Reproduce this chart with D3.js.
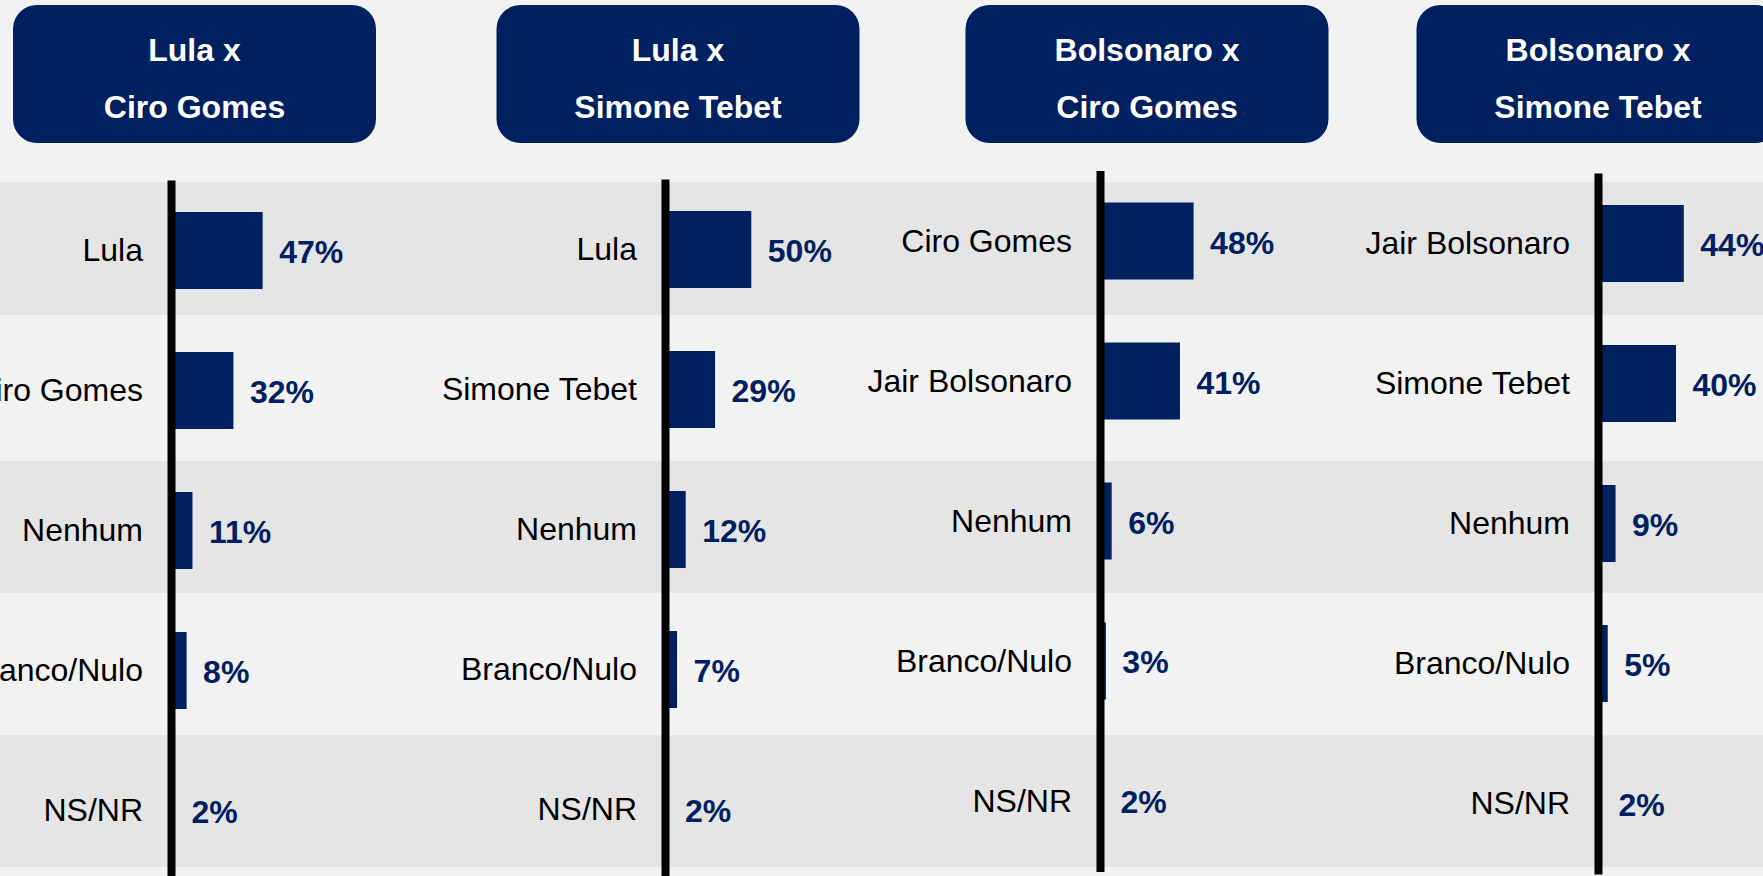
<!DOCTYPE html>
<html>
<head>
<meta charset="utf-8">
<script src="https://cdn.jsdelivr.net/npm/d3@7/dist/d3.min.js"></script>
<style>
  html, body { margin: 0; padding: 0; background: #f2f2f2; }
  svg { display: block; }
  text { font-family: "Liberation Sans", Arial, Helvetica, sans-serif; }
</style>
</head>
<body>
<svg id="chart" width="1763" height="876"></svg>
<script>
// ---- data ----
const titleLine1 = ["Lula x", "Lula x", "Bolsonaro x", "Bolsonaro x"];
const titleLine2 = ["Ciro Gomes", "Simone Tebet", "Ciro Gomes", "Simone Tebet"];

const categories1 = ["Lula", "Ciro Gomes", "Nenhum", "Branco/Nulo", "NS/NR"];
const values1 = [47, 32, 11, 8, 2];

const categories2 = ["Lula", "Simone Tebet", "Nenhum", "Branco/Nulo", "NS/NR"];
const values2 = [50, 29, 12, 7, 2];

const categories3 = ["Ciro Gomes", "Jair Bolsonaro", "Nenhum", "Branco/Nulo", "NS/NR"];
const values3 = [48, 41, 6, 3, 2];

const categories4 = ["Jair Bolsonaro", "Simone Tebet", "Nenhum", "Branco/Nulo", "NS/NR"];
const values4 = [44, 40, 9, 5, 2];

// per-panel value-axis maximum (scale domain)
const axisMax = [100, 113, 100, 100];

// ---- layout ----
const W = 1763, H = 876;
const navy = "#002060";
const bandDark = "#e5e5e5";
const rowEdges = [182, 315, 461, 593, 735, 867];
const panelAxisX = [171, 665, 1100, 1598];
const panelTop = [180, 179, 170.5, 173];
const boxCenterX = [194.5, 678, 1147, 1598];
const boxW = 363, boxH = 138, boxY = 5;
const plotLen = 701;
const barRange = 195;

const svg = d3.select("#chart");

// background stripes
const stripes = d3.range(0, rowEdges.length - 1).filter(i => i % 2 === 0);
svg.append("g").selectAll("rect").data(stripes).join("rect")
  .attr("x", 0).attr("width", W)
  .attr("y", i => rowEdges[i])
  .attr("height", i => rowEdges[i + 1] - rowEdges[i])
  .attr("fill", bandDark);

const panels = [
  { cats: categories1, vals: values1 },
  { cats: categories2, vals: values2 },
  { cats: categories3, vals: values3 },
  { cats: categories4, vals: values4 }
];

panels.forEach((p, pi) => {
  // header box
  const hg = svg.append("g");
  hg.append("rect")
    .attr("x", boxCenterX[pi] - boxW / 2).attr("y", boxY)
    .attr("width", boxW).attr("height", boxH)
    .attr("rx", 24).attr("ry", 24)
    .attr("fill", navy);
  hg.append("text")
    .attr("x", boxCenterX[pi]).attr("y", 61)
    .attr("text-anchor", "middle")
    .attr("fill", "#ffffff").attr("font-weight", "bold").attr("font-size", 32)
    .text(titleLine1[pi]);
  hg.append("text")
    .attr("x", boxCenterX[pi]).attr("y", 118)
    .attr("text-anchor", "middle")
    .attr("fill", "#ffffff").attr("font-weight", "bold").attr("font-size", 32)
    .text(titleLine2[pi]);

  // scales
  const y = d3.scaleBand()
    .domain(p.cats)
    .range([panelTop[pi], panelTop[pi] + plotLen])
    .paddingInner(0.45)
    .paddingOuter(0.2286);
  const x = d3.scaleLinear().domain([0, axisMax[pi]]).range([0, barRange]);

  const g = svg.append("g").attr("transform", `translate(${panelAxisX[pi]},0)`);

  // bars
  g.selectAll("rect.bar").data(p.cats).join("rect")
    .attr("class", "bar")
    .attr("x", 0)
    .attr("y", c => y(c))
    .attr("width", (c, i) => x(p.vals[i]))
    .attr("height", y.bandwidth())
    .attr("fill", navy);

  // value labels
  g.selectAll("text.val").data(p.cats).join("text")
    .attr("class", "val")
    .attr("x", (c, i) => x(p.vals[i]) + 16.5)
    .attr("y", c => y(c) + y.bandwidth() / 2 + 12.5)
    .attr("fill", navy)
    .attr("font-weight", "bold")
    .attr("font-size", 32)
    .text((c, i) => p.vals[i] + "%");

  // category axis
  const ax = g.append("g")
    .call(d3.axisLeft(y).tickSize(0).tickSizeOuter(0).tickPadding(28));
  ax.select(".domain").attr("stroke", "#000").attr("stroke-width", 8);
  ax.selectAll(".tick text")
    .attr("font-size", 32)
    .attr("fill", "#000")
    .attr("font-family", "Liberation Sans, Arial, sans-serif")
    .attr("dy", "0.33em");
});
</script>
</body>
</html>
